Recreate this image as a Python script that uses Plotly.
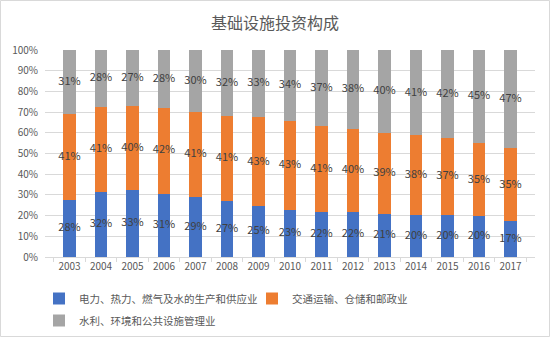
import plotly.graph_objects as go

years = [str(y) for y in range(2003, 2018)]
s1_name = "电力、热力、燃气及水的生产和供应业"
s2_name = "交通运输、仓储和邮政业"
s3_name = "水利、环境和公共设施管理业"
s1 = [27.6, 31.6, 32.6, 30.6, 28.8, 27.2, 24.6, 22.6, 21.7, 21.6, 20.7, 20.3, 20.3, 19.6, 17.2]
s2 = [41.4, 40.8, 40.2, 41.6, 41.4, 40.8, 42.8, 43.2, 41.4, 40.4, 39.2, 38.4, 37.3, 35.4, 35.4]
s3 = [31.0, 27.6, 27.2, 27.8, 29.8, 32.0, 32.6, 34.2, 36.9, 38.0, 40.1, 41.3, 42.4, 45.0, 47.4]

font_family = "Noto Sans CJK SC, Noto Sans, sans-serif"
colors = ["#4472C4", "#ED7D31", "#A5A5A5"]
series = [(s1_name, s1, colors[0], "legend"), (s2_name, s2, colors[1], "legend3"),
          (s3_name, s3, colors[2], "legend2")]

fig = go.Figure()
base = [0.0] * len(years)
for name, vals, c, lg in series:
    fig.add_trace(go.Bar(
        x=years, y=vals, name=name, marker=dict(color=c, line=dict(width=0)),
        legend=lg, hoverinfo="x+y+name",
    ))
    mids = [b + v / 2 for b, v in zip(base, vals)]
    fig.add_trace(go.Scatter(
        x=years, y=mids, mode="text", text=[f"{v:.0f}%" for v in vals],
        textposition="middle center", showlegend=False, hoverinfo="skip",
        textfont=dict(color="#404040", size=11, family=font_family),
    ))
    base = [b + v for b, v in zip(base, vals)]

W, H = 550, 337
ml, mr, mt, mb = 45, 15, 50, 80
pw, ph = W - ml - mr, H - mt - mb

def lx(px):
    return (px - ml) / pw

def ly(py):
    return -(py - mt - ph) / ph

leg_common = dict(orientation="h", xanchor="left", yanchor="top",
                  font=dict(size=10.5, color="#595959"), itemwidth=30,
                  bgcolor="rgba(0,0,0,0)")

fig.update_layout(
    width=W, height=H,
    barmode="stack", bargap=0.6,
    margin=dict(l=ml, r=mr, t=mt, b=mb, autoexpand=False),
    paper_bgcolor="white", plot_bgcolor="white",
    font=dict(family=font_family, color="#595959"),
    title=dict(text="基础设施投资构成", x=0.5, xanchor="center", y=1 - 23 / H, yanchor="middle",
               font=dict(size=16, color="#595959", family=font_family)),
    xaxis=dict(type="category", showgrid=False, showline=True, linecolor="#D9D9D9", linewidth=1,
               ticks="outside", tickson="boundaries", ticklen=4, tickcolor="#D9D9D9",
               tickangle=0, tickfont=dict(size=10, color="#595959")),
    yaxis=dict(range=[0, 100], tickvals=list(range(0, 101, 10)),
               ticktext=[f"{v}%" for v in range(0, 101, 10)],
               showgrid=True, gridcolor="#D9D9D9", gridwidth=1, zeroline=False,
               tickfont=dict(size=10, color="#595959"), ticklabelstandoff=6),
    legend=dict(x=lx(39), y=ly(284), **leg_common),
    legend3=dict(x=lx(252), y=ly(284), **leg_common),
    legend2=dict(x=lx(39), y=ly(306), **leg_common),
    showlegend=True,
)

fig.add_shape(type="rect", xref="paper", yref="paper",
              x0=-(ml - 0.5) / pw, x1=1 + (mr - 0.5) / pw,
              y0=-(mb - 0.5) / ph, y1=1 + (mt - 0.5) / ph,
              line=dict(color="#D9D9D9", width=1), layer="below")

fig.write_html("out.html")
